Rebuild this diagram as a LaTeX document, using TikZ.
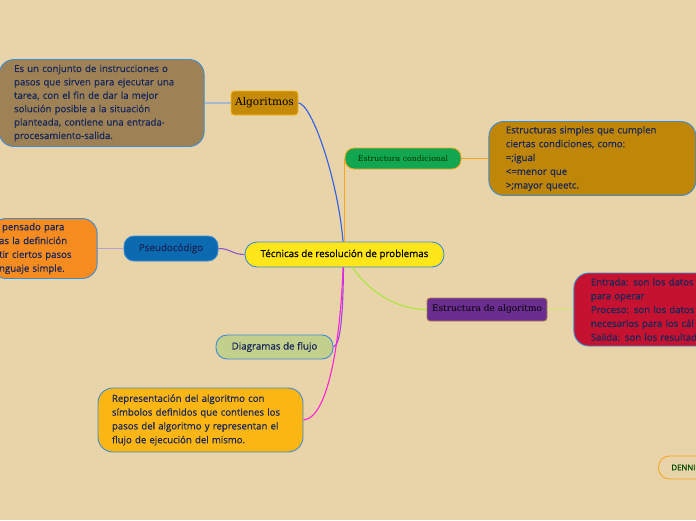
\documentclass[tikz,border=0pt]{standalone}
\usepackage{fontspec}
\setmainfont{Open Sans}[FakeBold=0.6]
\newfontfamily\slabfont{DejaVu Serif}
\usepackage{tikz}
\usetikzlibrary{positioning}
\definecolor{paper}{HTML}{E9D4A9}
\definecolor{inkblue}{HTML}{17275A}
\definecolor{frameblue}{HTML}{3A8DD6}
\definecolor{olivebox}{HTML}{9E8256}
\definecolor{goldnode}{HTML}{C48A08}
\definecolor{goldbox}{HTML}{BF8608}
\definecolor{greennode}{HTML}{12A650}
\definecolor{yellownode}{HTML}{FFE61A}
\definecolor{bluenode}{HTML}{0B6AB0}
\definecolor{orangebox}{HTML}{F68B1F}
\definecolor{purplenode}{HTML}{6B2D8F}
\definecolor{crimsonbox}{HTML}{C41230}
\definecolor{sagenode}{HTML}{C3CF8C}
\definecolor{amberbox}{HTML}{FCB614}
\definecolor{lineblue}{HTML}{2F5FE8}
\definecolor{lineorange}{HTML}{F5A623}
\definecolor{linepurple}{HTML}{8A55D0}
\definecolor{linelime}{HTML}{A6E83C}
\definecolor{lineviolet}{HTML}{A040E8}
\definecolor{linemagenta}{HTML}{FF22D8}
\definecolor{linegrey}{HTML}{A8B8CC}
\definecolor{linelavender}{HTML}{B6A0CC}
\definecolor{linesoftlime}{HTML}{C8E878}
\tikzset{
  topic/.style={draw=frameblue,line width=0.9pt,rounded corners=9pt,text=inkblue,inner sep=0pt,font=\fontsize{9.8}{11}\selectfont},
  slab/.style={font=\slabfont\fontsize{#1}{11}\selectfont},
  note/.style={draw=frameblue,line width=0.9pt,rounded corners=15pt,text=inkblue,align=left,inner xsep=14pt,inner ysep=0pt,font=\fontsize{9.6}{13.8}\selectfont},
  link/.style={line width=1.1pt}
}
\begin{document}
\begin{tikzpicture}[x=1pt,y=-1pt]
  \useasboundingbox (0,0) rectangle (696,520);
  \clip (0,0) rectangle (696,520);
  \fill[paper] (0,0) rectangle (696,520);

  \node[topic,fill=yellownode,text=black,minimum width=199pt,minimum height=25pt,rounded corners=12pt] (tecnicas) at (344.5,254.5) {Técnicas de resolución de problemas};
  \node[topic,slab=10.6,fill=goldnode,draw=lineorange!80!yellow,text=black,minimum width=67pt,minimum height=24pt,rounded corners=3pt] (algo) at (264.5,103) {Algoritmos};
  \node[note,fill=olivebox,inner xsep=15pt,text width=175pt,minimum height=87pt,font=\fontsize{9.6}{13.4}\selectfont,left=26pt of algo] (algodesc) {Es un conjunto de instrucciones o\\pasos que sirven para ejecutar una\\tarea, con el fin de dar la mejor\\solución posible a la situación\\planteada, contiene una entrada-\\procesamiento-salida.};
  \node[topic,slab=7.8,fill=greennode,draw=lineorange,text=black!80!green,minimum width=116pt,minimum height=21pt] (cond) at (403,158.5) {Estructura condicional};
  \node[note,fill=goldbox,inner xsep=17pt,text width=173pt,minimum height=74pt,right=27pt of cond] (conddesc) {Estructuras simples que cumplen\\ciertas condiciones, como:\\=;igual\\<=menor que\\>;mayor queetc.};
  \node[topic,fill=bluenode,minimum width=94pt,minimum height=25pt,rounded corners=10pt] (pseudo) at (171,248.5) {Pseudocódigo};
  \node[note,fill=orangebox,inner xsep=8pt,text width=90pt,minimum height=60pt,left=26pt of pseudo] (pseudodesc) {\hspace*{3pt}pensado para\\as la definición\\tir ciertos pasos\\nguaje simple.};
  \node[topic,slab=9,fill=purplenode,draw=brown!70!gray,text=black,minimum width=120pt,minimum height=23pt,rounded corners=3pt] (estalg) at (487,309.5) {Estructura de algoritmo};
  \node[note,fill=crimsonbox,inner xsep=17pt,text width=180pt,minimum height=73pt,right=26pt of estalg] (estalgdesc) {Entrada: son los datos\\para operar\\Proceso: son los datos\\necesarios para los cál\\Salida: son los resultad};
  \node[topic,fill=sagenode,minimum width=117pt,minimum height=24pt,rounded corners=11pt] (diag) at (274.5,347) {Diagramas de flujo};
  \node[note,fill=amberbox,text width=177pt,minimum height=64pt] (repr) at (200.5,420) {Representación del algoritmo con\\símbolos definidos que contienes los\\pasos del algoritmo y representan el\\flujo de ejecución del mismo.};
  \node[topic,fill=paper,draw=lineorange,text=black!70!green,inner xsep=13pt,minimum height=23pt,rounded corners=11pt,font=\fontsize{7.8}{9}\selectfont,anchor=west] (denni) at (658,467.5) {DENNI};

  \draw[link,lineblue] ([xshift=-1.5pt]tecnicas.north) .. controls (338,180) and (312,104) .. (algo.east);
  \draw[link,lineorange] (tecnicas.north -| cond.west) -- (cond.west);
  \draw[link,linepurple] (tecnicas.west) .. controls (232,254.5) and (231,248.5) .. (pseudo.east);
  \draw[link,linelime] ([xshift=8pt]tecnicas.south) .. controls (368,290) and (395,309.5) .. (estalg.west);
  \draw[link,lineviolet] ([xshift=-1pt]tecnicas.south) .. controls (343,310) and (341,345) .. (diag.east);
  \draw[link,linemagenta] ([xshift=-1.5pt]tecnicas.south) .. controls (341,330) and (330,418) .. (repr.east);
  \draw[link,linegrey] (algodesc.east) -- (algo.west);
  \draw[link,lineorange] (cond.east) -- (conddesc.west);
  \draw[link,linelavender] (pseudodesc.east) -- (pseudo.west);
  \draw[link,linesoftlime] (estalg.east) -- (estalgdesc.west);
\end{tikzpicture}
\end{document}
